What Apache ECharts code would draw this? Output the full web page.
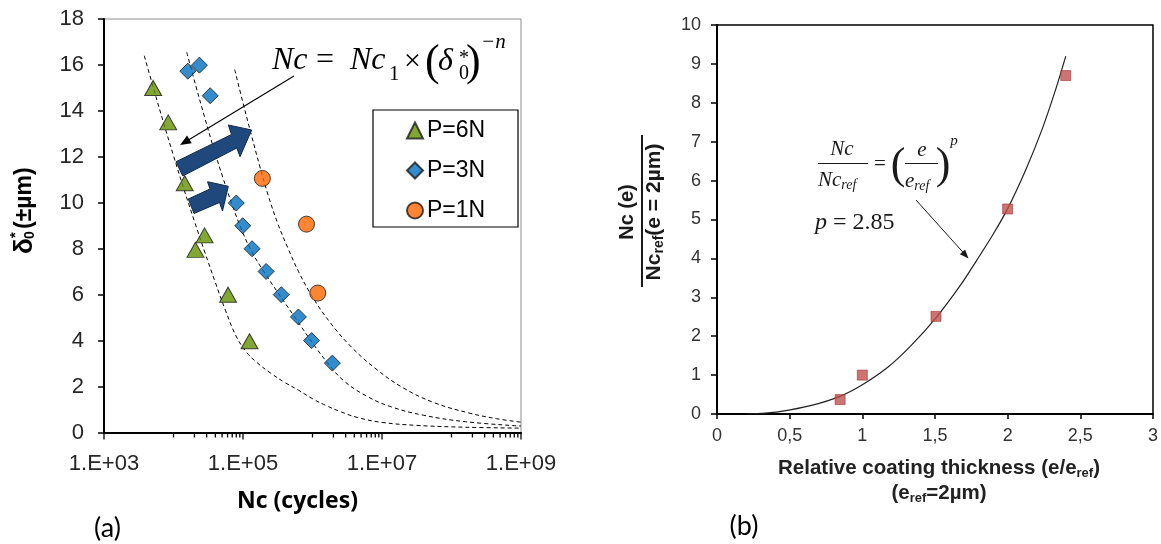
<!DOCTYPE html>
<html><head><meta charset="utf-8">
<script src="https://cdn.jsdelivr.net/npm/echarts@6/dist/echarts.min.js"></script>
<style>html,body{margin:0;padding:0;background:#fff}#c{width:1161px;height:544px}</style>
</head><body><div id="c"></div>
<script>
// ---------- (a) data ----------
const seriesNames = ['P=6N', 'P=3N', 'P=1N'];
const p6N = [[5.1e3,15.0],[8.4e3,13.5],[1.45e4,10.85],[2.8e4,8.58],[2.07e4,7.95],[6.1e4,6.0],[1.24e5,3.97]];
const p3N = [[1.61e4,15.73],[2.36e4,15.99],[3.37e4,14.66],[8.0e4,9.99],[9.9e4,9.0],[1.35e5,8.0],[2.15e5,7.01],[3.55e5,6.0],[6.27e5,5.03],[9.7e5,4.0],[1.93e6,3.02]];
const p1N = [[1.9e5,11.06],[8.2e5,9.07],[1.19e6,6.07]];
const fit6N = [[3.8e3,16.4],[5.25e3,14.9],[7.25e3,13.45],[1.0e4,12.05],[1.41e4,10.6],[2.0e4,9.2],[2.82e4,7.85],[3.98e4,6.55],[5.62e4,5.3],[7.94e4,4.2],[1.12e5,3.5],[1.58e5,3.05],[2.51e5,2.58],[3.98e5,2.18],[6.31e5,1.84],[1.0e6,1.47],[1.58e6,1.17],[2.51e6,0.91],[4.47e6,0.65],[1.0e7,0.44],[3.16e7,0.31],[1.58e8,0.23],[1e9,0.19]];
const fit3N = [[1.55e4,16.55],[2.09e4,15.1],[2.82e4,13.7],[3.8e4,12.35],[5.13e4,11.1],[6.92e4,9.95],[9.33e4,8.9],[1.32e5,7.9],[2.0e5,7.0],[3.16e5,6.1],[5.62e5,5.0],[1.0e6,3.9],[1.58e6,3.1],[2.82e6,2.25],[6.31e6,1.55],[1.41e7,1.1],[3.98e7,0.75],[1.58e8,0.47],[1e9,0.28]];
const fit1N = [[7.59e4,15.8],[1.0e5,14.35],[1.32e5,12.95],[1.74e5,11.6],[2.29e5,10.35],[3.16e5,9.1],[4.47e5,8.0],[6.31e5,7.0],[1.0e6,5.9],[1.78e6,4.8],[3.55e6,3.75],[7.94e6,2.8],[2.0e7,1.95],[5.62e7,1.3],[1.78e8,0.85],[4.47e8,0.6],[1e9,0.45]];
const xMajorTicksA = [1e3, 1e5, 1e7, 1e9];
const xMinorTicksA = [1e4,2e4,3e4,4e4,5e4,6e4,7e4,8e4,9e4,1e6,2e6,3e6,4e6,5e6,6e6,7e6,8e6,9e6,1e8,2e8,3e8,4e8,5e8,6e8,7e8,8e8,9e8];

// ---------- (b) data ----------
const relThickness = [0.847, 1.0, 1.507, 2.0, 2.4];
const ncRatio = [0.37, 1.0, 2.51, 5.27, 8.7];
const fitX = [0.2, 0.3, 0.43, 0.65, 0.85, 1.0, 1.175, 1.333, 1.508, 1.673, 1.787, 1.9, 2.0, 2.127, 2.24, 2.331, 2.4];
const fitY = [0.0, 0.015, 0.06, 0.22, 0.46, 0.75, 1.2, 1.75, 2.48, 3.3, 3.95, 4.62, 5.28, 6.3, 7.35, 8.35, 9.2];

const SANS = 'Liberation Sans, Arial, sans-serif';
const SERIF = 'Liberation Serif, Times New Roman, serif';
const CAL = 'Lato, Open Sans, sans-serif';
const OPEN = 'Open Sans, Liberation Sans, sans-serif';

function arrowHead(x1, y1, x2, y2, len, half) {
  const dx = x2 - x1, dy = y2 - y1, L = Math.hypot(dx, dy);
  const ux = dx / L, uy = dy / L;
  const bx = x2 - ux * len, by = y2 - uy * len;
  return [[x2, y2], [bx - uy * half, by + ux * half], [bx + uy * half, by - ux * half]];
}
function txt(x, y, text, size, opts) {
  opts = opts || {};
  return { type: 'text', x: x, y: y, silent: true, z: 100, style: Object.assign({
    text: text, fontSize: size, fontFamily: opts.family || SERIF, fontStyle: opts.italic ? 'italic' : 'normal',
    fontWeight: opts.bold ? 'bold' : 'normal', fill: opts.color || '#000',
    align: opts.align || 'left', verticalAlign: 'middle' }, opts.extra || {}) };
}

const chart = echarts.init(document.getElementById('c'), null, { renderer: 'canvas' });
const scatterBorder = { borderColor: '#1a1a1a', borderWidth: 1 };
const dashStyle = { color: '#000', width: 1, type: [4, 3] };

const option = {
  animation: false,
  backgroundColor: '#fff',
  grid: [
    { left: 104, right: 640, top: 19, bottom: 111.5, show: true, borderColor: '#8c8c8c', borderWidth: 1, backgroundColor: 'transparent' },
    { left: 717, right: 3, top: 25, bottom: 130, show: true, borderColor: '#000', borderWidth: 1.5, backgroundColor: 'transparent' }
  ],
  xAxis: [
    { type: 'log', gridIndex: 0, logBase: 10, min: 1e3, max: 1e9,
      axisLine: { lineStyle: { color: '#000', width: 2 } },
      axisTick: { show: false }, splitLine: { show: false }, minorTick: { show: false },
      axisLabel: { margin: 20, fontSize: 22, fontFamily: SANS, color: '#262626',
        formatter: function (v) { const e = Math.round(Math.log10(v)); return (e % 2 === 1) ? '1.E+' + (e < 10 ? '0' : '') + e : ''; } } },
    { type: 'value', gridIndex: 1, min: 0, max: 3, interval: 0.5,
      axisLine: { lineStyle: { color: '#000', width: 2 } },
      axisTick: { show: true, length: 5, lineStyle: { color: '#000', width: 1.5 } }, splitLine: { show: false },
      axisLabel: { margin: 13, fontSize: 18, fontFamily: SANS, color: '#333', showMaxLabel: true,
        formatter: function (v) { return String(v).replace('.', ','); } } }
  ],
  yAxis: [
    { type: 'value', gridIndex: 0, min: 0, max: 18, interval: 2,
      axisLine: { show: true, lineStyle: { color: '#000', width: 2 } },
      axisTick: { show: true, length: 6, lineStyle: { color: '#000', width: 1.5 } }, splitLine: { show: false },
      axisLabel: { margin: 20, fontSize: 22, fontFamily: SANS, color: '#262626' } },
    { type: 'value', gridIndex: 1, min: 0, max: 10, interval: 1,
      axisLine: { show: true, lineStyle: { color: '#000', width: 2 } },
      axisTick: { show: true, length: 6, lineStyle: { color: '#000', width: 1.5 } }, splitLine: { show: false },
      axisLabel: { margin: 16, fontSize: 18, fontFamily: SANS, color: '#333' } }
  ],
  legend: {
    data: seriesNames, orient: 'vertical', left: 373, top: 111,
    padding: [8, 10, 8, 33], itemGap: 17, itemWidth: 16, itemHeight: 16,
    textStyle: { fontSize: 23, fontFamily: SANS, color: '#000', padding: [0, 0, 0, -1] },
    selectedMode: false
  },
  series: [
    { name: 'fit6N', type: 'line', xAxisIndex: 0, yAxisIndex: 0, data: fit6N, smooth: 0.4, showSymbol: false, symbol: 'none', lineStyle: dashStyle, z: 2, silent: true },
    { name: 'fit3N', type: 'line', xAxisIndex: 0, yAxisIndex: 0, data: fit3N, smooth: 0.4, showSymbol: false, symbol: 'none', lineStyle: dashStyle, z: 2, silent: true },
    { name: 'fit1N', type: 'line', xAxisIndex: 0, yAxisIndex: 0, data: fit1N, smooth: 0.4, showSymbol: false, symbol: 'none', lineStyle: dashStyle, z: 2, silent: true },
    { name: seriesNames[0], type: 'scatter', xAxisIndex: 0, yAxisIndex: 0, data: p6N, symbol: 'triangle', symbolSize: [17, 15], itemStyle: Object.assign({ color: '#639200' }, scatterBorder), z: 5 },
    { name: seriesNames[1], type: 'scatter', xAxisIndex: 0, yAxisIndex: 0, data: p3N, symbol: 'diamond', symbolSize: 16, itemStyle: Object.assign({ color: '#0070C0' }, scatterBorder), z: 5 },
    { name: seriesNames[2], type: 'scatter', xAxisIndex: 0, yAxisIndex: 0, data: p1N, symbol: 'circle', symbolSize: 16, itemStyle: Object.assign({ color: '#FF6600' }, scatterBorder), z: 5 },
    { name: 'ticksA', type: 'custom', xAxisIndex: 0, yAxisIndex: 0, silent: true, clip: false, z: 6,
      data: xMajorTicksA.map(function (v) { return [v, 0, 1]; }).concat(xMinorTicksA.map(function (v) { return [v, 0, 0]; })),
      encode: { x: 0, y: 1 },
      renderItem: function (params, api) {
        const p = api.coord([api.value(0), 0]);
        const len = api.value(2) ? 7 : 5;
        return { type: 'line', shape: { x1: p[0], y1: p[1], x2: p[0], y2: p[1] + len }, style: { stroke: '#000', lineWidth: 1.3 } };
      } },
    { name: 'fitB', type: 'line', xAxisIndex: 1, yAxisIndex: 1, data: fitX.map(function (x, i) { return [x, fitY[i]]; }), smooth: 0.3, symbol: 'none', lineStyle: { color: '#222', width: 1.2 }, z: 2, silent: true },
    { name: 'dataB', type: 'scatter', xAxisIndex: 1, yAxisIndex: 1, data: relThickness.map(function (x, i) { return [x, ncRatio[i]]; }), symbol: 'rect', symbolSize: 10, itemStyle: { color: '#C0504D', borderColor: '#A23B39', borderWidth: 0.8 }, z: 5 }
  ],
  graphic: [
    // legend frame (a)
    { type: 'rect', silent: true, z: 1, shape: { x: 373, y: 110, width: 145, height: 117 }, style: { fill: 'none', stroke: '#000', lineWidth: 1.2 } },
    // formula (a)
    txt(272, 61, 'Nc', 32, { italic: true }),
    txt(316, 61, '=', 32),
    txt(350, 61, 'Nc', 32, { italic: true }),
    txt(389, 74, '1', 21),
    txt(404, 62, '×', 30),
    txt(425, 63, '(', 44),
    txt(438, 62, 'δ', 32, { italic: true }),
    txt(459, 59, '*', 20),
    txt(459, 74, '0', 20),
    txt(466, 63, ')', 44),
    txt(481, 42, '−n', 21, { italic: true }),
    // thin arrow (a)
    { type: 'line', silent: true, z: 100, shape: { x1: 294, y1: 76, x2: 186, y2: 141.5 }, style: { stroke: '#000', lineWidth: 1.1 } },
    { type: 'polygon', silent: true, z: 100, shape: { points: arrowHead(294, 76, 180, 145, 11, 4.5) }, style: { fill: '#000' } },
    // block arrows (a)
    { type: 'polygon', silent: true, z: 90, shape: { points: [[176, 161.7], [231.5, 134.5], [228.3, 125], [251.7, 130], [240, 156.7], [236.8, 148], [182.7, 176]] }, style: { fill: '#1F497D', stroke: '#10294a', lineWidth: 1 } },
    { type: 'polygon', silent: true, z: 90, shape: { points: [[188.3, 199], [210, 189], [207.5, 181.7], [228.3, 186.3], [222.5, 211], [219.5, 202.5], [194, 213.5]] }, style: { fill: '#1F497D', stroke: '#10294a', lineWidth: 1 } },
    // y title (a)
    { type: 'group', x: 25, y: 202, rotation: Math.PI / 2, silent: true, children: [
      txt(-52, 0, 'δ', 26, { bold: true, family: SANS }),
      txt(-36, -9, '*', 15, { bold: true, family: SANS }),
      txt(-37, 5, '0', 14, { bold: true, family: SANS }),
      txt(-27, 0, '(±µm)', 23, { bold: true, family: SANS })
    ] },
    // x title (a)
    txt(297.5, 501, 'Nc (cycles)', 23, { bold: true, family: OPEN, align: 'center' }),
    txt(107.5, 528, '(a)', 27, { family: CAL, align: 'center' }),
    txt(744, 526, '(b)', 27, { family: CAL, align: 'center' }),
    // formula (b)
    txt(842, 149, 'Nc', 21, { italic: true, align: 'center', color: '#1a1a1a' }),
    { type: 'line', silent: true, z: 100, shape: { x1: 818, y1: 163.5, x2: 868, y2: 163.5 }, style: { stroke: '#1a1a1a', lineWidth: 1 } },
    { type: 'text', x: 818, y: 180, silent: true, z: 100, style: { text: '{m|Nc}{s|ref}', verticalAlign: 'middle', fill: '#1a1a1a',
      rich: { m: { fontSize: 21, fontFamily: SERIF, fontStyle: 'italic', lineHeight: 24, verticalAlign: 'middle' }, s: { fontSize: 14, fontFamily: SERIF, fontStyle: 'italic', lineHeight: 14, verticalAlign: 'bottom' } } } },
    txt(880, 164, '=', 21, { align: 'center', color: '#1a1a1a' }),
    txt(898, 166, '(', 44, { align: 'center', color: '#1a1a1a' }),
    txt(922, 150, 'e', 21, { italic: true, align: 'center', color: '#1a1a1a' }),
    { type: 'line', silent: true, z: 100, shape: { x1: 905, y1: 163.5, x2: 938, y2: 163.5 }, style: { stroke: '#1a1a1a', lineWidth: 1 } },
    { type: 'text', x: 905, y: 181, silent: true, z: 100, style: { text: '{m|e}{s|ref}', verticalAlign: 'middle', fill: '#1a1a1a',
      rich: { m: { fontSize: 21, fontFamily: SERIF, fontStyle: 'italic', lineHeight: 24, verticalAlign: 'middle' }, s: { fontSize: 14, fontFamily: SERIF, fontStyle: 'italic', lineHeight: 14, verticalAlign: 'bottom' } } } },
    txt(943, 166, ')', 44, { align: 'center', color: '#1a1a1a' }),
    txt(954, 141, 'p', 15, { italic: true, align: 'center', color: '#1a1a1a' }),
    { type: 'text', x: 815, y: 223, silent: true, z: 100, style: { text: '{i|p} = 2.85', fontSize: 24, fontFamily: SERIF, fill: '#1a1a1a', verticalAlign: 'middle',
      rich: { i: { fontSize: 24, fontFamily: SERIF, fontStyle: 'italic' } } } },
    // arrow (b)
    { type: 'line', silent: true, z: 100, shape: { x1: 916, y1: 200, x2: 965, y2: 254.5 }, style: { stroke: '#1a1a1a', lineWidth: 1 } },
    { type: 'polygon', silent: true, z: 100, shape: { points: arrowHead(916, 200, 968.5, 258.5, 9, 3.5) }, style: { fill: '#1a1a1a' } },
    // y title (b)
    { type: 'group', x: 642, y: 212, rotation: Math.PI / 2, silent: true, children: [
      txt(0, -15, 'Nc (e)', 20, { bold: true, family: SANS, align: 'center', color: '#1a1a1a' }),
      { type: 'line', shape: { x1: -75, y1: 0, x2: 77, y2: 0 }, style: { stroke: '#1a1a1a', lineWidth: 2 } },
      { type: 'text', x: 0, y: 12, style: { text: '{b|Nc}{s|ref}{b|(e = 2µm)}', align: 'center', verticalAlign: 'middle', fill: '#1a1a1a',
        rich: { b: { fontSize: 21, fontWeight: 'bold', fontFamily: SANS, lineHeight: 24, verticalAlign: 'middle' }, s: { fontSize: 14, fontWeight: 'bold', fontFamily: SANS, lineHeight: 14, verticalAlign: 'bottom' } } } }
    ] },
    // x title (b)
    { type: 'text', x: 939, y: 468, silent: true, style: { text: '{b|Relative coating thickness (e/e}{s|ref}{b|)}', align: 'center', verticalAlign: 'middle', fill: '#222',
      rich: { b: { fontSize: 20.5, fontWeight: 'bold', fontFamily: SANS, lineHeight: 24, verticalAlign: 'middle' }, s: { fontSize: 13, fontWeight: 'bold', fontFamily: SANS, lineHeight: 13, verticalAlign: 'bottom' } } } },
    { type: 'text', x: 939, y: 493, silent: true, style: { text: '{b|(e}{s|ref}{b|=2µm)}', align: 'center', verticalAlign: 'middle', fill: '#222',
      rich: { b: { fontSize: 20.5, fontWeight: 'bold', fontFamily: SANS, lineHeight: 24, verticalAlign: 'middle' }, s: { fontSize: 13, fontWeight: 'bold', fontFamily: SANS, lineHeight: 13, verticalAlign: 'bottom' } } } }
  ]
};
chart.setOption(option);
</script>
</body></html>
